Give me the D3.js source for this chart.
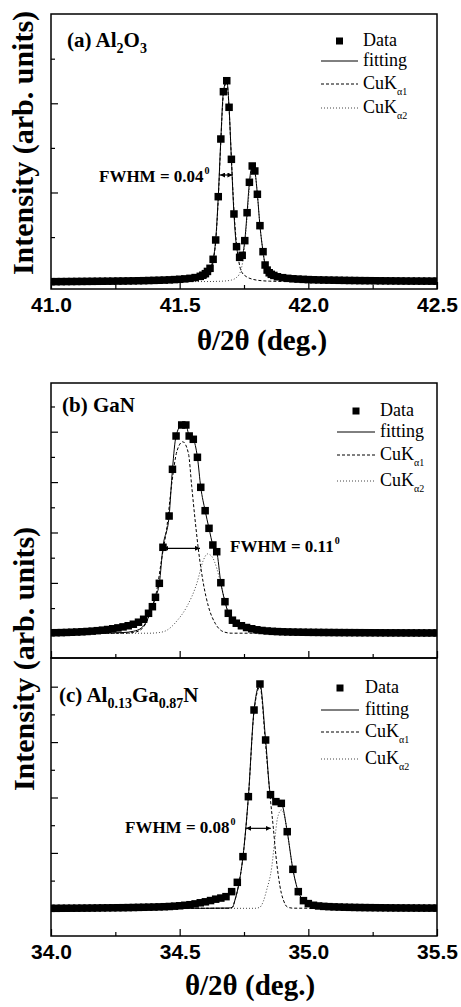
<!DOCTYPE html>
<html>
<head>
<meta charset="utf-8">
<script src="https://cdn.jsdelivr.net/npm/d3@7"></script>
<style>
  html, body { margin: 0; padding: 0; background: #fff; }
  svg { display: block; }
</style>
</head>
<body>
<div id="chart"></div>
<script>
// Rocking / theta-2theta scans, three panels

// (a) Al2O3 — [2theta, counts]
const al2o3Data = [
  [41.00,1000],[41.02,1001],[41.04,1002],[41.06,1003],[41.08,1004],[41.10,1005],[41.12,1006],[41.14,1007],
  [41.16,1008],[41.18,1009],[41.20,1010],[41.22,1011],[41.24,1012],[41.26,1014],[41.28,1015],[41.30,1017],
  [41.32,1019],[41.34,1021],[41.36,1023],[41.38,1026],[41.40,1029],[41.42,1032],[41.44,1036],[41.46,1041],
  [41.48,1047],[41.50,1054],[41.52,1063],[41.54,1075],[41.56,1092],[41.58,1120],[41.59,1145],[41.60,1180],
  [41.608,1230],[41.618,1300],[41.630,1502],[41.640,1935],[41.650,2906],[41.660,4199],[41.670,5260],
  [41.683,5506],[41.692,4910],[41.701,3744],[41.711,2518],[41.721,1785],[41.733,1546],[41.743,1591],
  [41.753,1920],[41.762,2547],[41.771,3229],[41.782,3594],[41.792,3482],[41.802,2960],[41.812,2256],
  [41.824,1673],[41.832,1374],[41.840,1260],[41.848,1200],[41.856,1165],[41.866,1140],[41.88,1110],
  [41.90,1090],[41.92,1075],[41.94,1065],[41.96,1058],[41.98,1052],[42.00,1047],[42.02,1043],[42.04,1040],
  [42.06,1037],[42.08,1035],[42.10,1033],[42.12,1031],[42.14,1029],[42.16,1027],[42.18,1026],[42.20,1024],
  [42.22,1023],[42.24,1022],[42.26,1021],[42.28,1020],[42.30,1019],[42.32,1018],[42.34,1017],[42.36,1016],
  [42.38,1015],[42.40,1014],[42.42,1014],[42.44,1013],[42.46,1013],[42.48,1012],[42.50,1012]
];
const al2o3Fit = [
  [41.00,1000],[41.30,1012],[41.50,1045],[41.56,1075],[41.60,1150],[41.618,1300],[41.630,1502],[41.640,1935],
  [41.650,2906],[41.660,4199],[41.670,5260],[41.683,5506],[41.692,4910],[41.701,3744],[41.711,2518],
  [41.721,1785],[41.733,1546],[41.743,1591],[41.753,1920],[41.762,2547],[41.771,3229],[41.782,3594],
  [41.792,3482],[41.802,2960],[41.812,2256],[41.824,1673],[41.832,1374],[41.845,1180],[41.87,1080],
  [41.95,1035],[42.10,1012],[42.50,1002]
];
const al2o3Ka1 = [
  [41.00,1000],[41.50,1005],[41.58,1040],[41.60,1080],[41.62,1200],[41.63,1450],[41.64,1900],[41.65,2850],
  [41.66,4150],[41.67,5200],[41.683,5480],[41.692,4880],[41.70,3900],[41.71,2700],[41.72,1900],[41.73,1450],
  [41.74,1230],[41.76,1110],[41.78,1060],[41.80,1035],[41.85,1012],[41.95,1003],[42.50,1000]
];
const al2o3Ka2 = [
  [41.00,1000],[41.60,1003],[41.66,1010],[41.70,1035],[41.72,1090],[41.73,1150],[41.74,1300],[41.75,1650],
  [41.76,2300],[41.77,3000],[41.785,3550],[41.795,3350],[41.802,2960],[41.812,2256],[41.824,1673],
  [41.832,1374],[41.845,1180],[41.87,1070],[41.92,1020],[42.00,1008],[42.50,1000]
];

// (b) GaN
const ganData = [
  [34.00,2020],[34.02,2024],[34.04,2028],[34.06,2034],[34.08,2042],[34.10,2050],[34.12,2060],[34.14,2072],
  [34.16,2086],[34.18,2104],[34.20,2125],[34.22,2150],[34.24,2180],[34.26,2215],[34.28,2255],[34.30,2300],
  [34.32,2360],[34.34,2440],[34.36,2556],[34.379,2794],[34.394,3056],[34.406,3429],[34.421,3984],
  [34.435,5413],[34.459,6654],[34.472,8508],[34.486,9829],[34.508,10266],[34.524,10266],[34.537,9829],
  [34.553,9698],[34.569,8984],[34.582,7793],[34.599,6865],[34.614,6166],[34.629,5504],[34.644,5238],
  [34.660,4008],[34.676,3254],[34.689,2794],[34.705,2520],[34.72,2400],[34.74,2300],[34.76,2230],
  [34.78,2180],[34.80,2140],[34.82,2112],[34.84,2092],[34.86,2078],[34.88,2068],[34.90,2060],[34.92,2054],
  [34.94,2049],[34.96,2045],[34.98,2042],[35.00,2039],[35.02,2037],[35.04,2035],[35.06,2033],[35.08,2031],
  [35.10,2030],[35.12,2028],[35.14,2027],[35.16,2026],[35.18,2025],[35.20,2024],[35.22,2023],[35.24,2022],
  [35.26,2021],[35.28,2020],[35.30,2019],[35.32,2018],[35.34,2018],[35.36,2017],[35.38,2016],[35.40,2016],
  [35.42,2015],[35.44,2015],[35.46,2014],[35.48,2014],[35.50,2013]
];
const ganFit = [
  [34.00,2000],[34.20,2010],[34.28,2030],[34.32,2080],[34.35,2200],[34.37,2450],[34.394,3056],[34.406,3429],
  [34.421,3984],[34.435,5413],[34.459,6654],[34.472,8508],[34.486,9829],[34.508,10266],[34.524,10266],
  [34.537,9829],[34.553,9698],[34.569,8984],[34.582,7793],[34.599,6865],[34.614,6166],[34.629,5504],
  [34.644,5238],[34.660,4008],[34.676,3254],[34.689,2794],[34.705,2520],[34.72,2380],[34.75,2220],
  [34.80,2100],[34.90,2040],[35.10,2015],[35.50,2005]
];
const ganKa1 = [
  [34.00,2000],[34.28,2005],[34.32,2030],[34.35,2150],[34.37,2420],[34.39,2950],[34.41,3650],[34.43,4950],
  [34.45,6200],[34.47,8000],[34.49,9250],[34.512,9600],[34.534,9143],[34.547,7817],[34.56,6496],
  [34.573,5305],[34.592,3984],[34.612,3056],[34.638,2397],[34.67,2063],[34.70,2005],[35.50,2000]
];
const ganKa2 = [
  [34.00,2000],[34.38,2003],[34.42,2030],[34.45,2120],[34.49,2500],[34.528,3060],[34.567,3990],[34.592,4900],
  [34.608,5150],[34.625,5050],[34.645,4550],[34.66,3950],[34.68,3150],[34.70,2620],[34.72,2340],
  [34.75,2170],[34.80,2070],[34.90,2020],[35.00,2008],[35.50,2000]
];

// (c) Al0.13Ga0.87N
const alganData = [
  [34.00,2000],[34.02,2000],[34.04,2002],[34.06,2003],[34.08,2004],[34.10,2005],[34.12,2007],[34.14,2008],
  [34.16,2010],[34.18,2012],[34.20,2015],[34.22,2017],[34.24,2019],[34.26,2021],[34.28,2023],[34.30,2026],
  [34.32,2030],[34.34,2034],[34.36,2038],[34.38,2042],[34.40,2046],[34.42,2052],[34.44,2058],[34.46,2066],
  [34.48,2078],[34.50,2092],[34.52,2110],[34.54,2130],[34.56,2160],[34.58,2200],[34.60,2235],[34.62,2280],
  [34.64,2330],[34.66,2370],[34.680,2421],[34.702,2602],[34.724,2938],[34.746,3865],[34.767,6030],
  [34.789,9158],[34.812,10096],[34.834,8075],[34.853,6102],[34.874,5850],[34.895,5789],[34.918,4767],
  [34.940,3408],[34.961,2602],[34.981,2277],[35.00,2170],[35.02,2110],[35.04,2085],[35.06,2070],
  [35.08,2060],[35.10,2052],[35.12,2046],[35.14,2040],[35.16,2036],[35.18,2032],[35.20,2029],[35.22,2026],
  [35.24,2024],[35.26,2022],[35.28,2020],[35.30,2018],[35.32,2016],[35.34,2014],[35.36,2013],[35.38,2012],
  [35.40,2011],[35.42,2010],[35.44,2009],[35.46,2008],[35.48,2008],[35.50,2007]
];
const alganFit = [
  [34.00,2000],[34.60,2002],[34.66,2008],[34.69,2010],[34.705,2040],[34.715,2300],[34.726,2700],
  [34.746,3865],[34.767,6030],[34.789,9158],[34.812,10096],[34.834,8075],[34.853,6102],[34.874,5850],
  [34.895,5789],[34.918,4767],[34.940,3408],[34.961,2602],[34.981,2277],[35.00,2150],[35.04,2060],
  [35.10,2020],[35.50,2002]
];
const alganKa1 = [
  [34.00,2000],[34.69,2003],[34.705,2040],[34.715,2300],[34.726,2700],[34.746,3850],[34.767,6000],
  [34.789,9100],[34.812,10000],[34.834,7900],[34.853,5900],[34.864,4900],[34.874,3900],[34.884,3140],
  [34.895,2550],[34.903,2300],[34.918,2050],[34.94,2005],[35.50,2000]
];
const alganKa2 = [
  [34.00,2000],[34.79,2000],[34.81,2030],[34.825,2250],[34.838,2660],[34.858,3500],[34.87,4500],
  [34.88,5250],[34.895,5550],[34.908,5300],[34.918,4767],[34.940,3408],[34.961,2602],[34.981,2277],
  [35.00,2150],[35.04,2060],[35.10,2020],[35.50,2002]
];

// axis ticks
const xMajorA = [41.0, 41.5, 42.0, 42.5];
const xMinorA = [41.25, 41.75, 42.25];
const xMajorBC = [34.0, 34.5, 35.0, 35.5];
const xMinorBC = [34.25, 34.75, 35.25];
const yMajorA = [1000, 3000, 5000];
const yMinorA = [2000, 4000, 6000];
const yMajorB = [2000, 4000, 6000, 8000, 10000];
const yMinorB = [3000, 5000, 7000, 9000, 11000];
const yMajorC = [2000, 4000, 6000, 8000, 10000];
const yMinorC = [3000, 5000, 7000, 9000];

const legendLabels = ['Data', 'fitting', 'CuK', 'CuK'];
const legendSubs = ['', '', '\u03b11', '\u03b12'];

const SERIF = '"Liberation Serif", "Times New Roman", serif';
const SANS = '"Liberation Sans", Arial, sans-serif';
const W = 461, H = 1007;
const left = 51, right = 437;
const SQ = 7.5;

const svg = d3.select('#chart').append('svg')
  .attr('width', W)
  .attr('height', H)
  .style('background', '#fff');

const defs = svg.append('defs');
defs.append('marker')
  .attr('id', 'arrowhead')
  .attr('viewBox', '0 0 6 6')
  .attr('refX', 6).attr('refY', 3)
  .attr('markerWidth', 5).attr('markerHeight', 5)
  .attr('markerUnits', 'userSpaceOnUse')
  .attr('orient', 'auto-start-reverse')
  .append('path')
  .attr('d', 'M0,0 L6,3 L0,6 Z')
  .attr('fill', '#000');

const panels = [
  {
    id: 'a', top: 14, bottom: 289,
    xDomain: [41.0, 42.5], yDomain: [836, 7002],
    data: al2o3Data, fit: al2o3Fit, ka1: al2o3Ka1, ka2: al2o3Ka2,
    xMajor: xMajorA, xMinor: xMinorA, yMajor: yMajorA, yMinor: yMinorA,
    showXLabels: true, tickLabelY: 312, xTitle: { x: 262, y: 350 },
    title: { x: 67, y: 47, parts: [['(a) Al', 0], ['2', 1], ['O', 0], ['3', 1]] },
    legend: { l0: 321, l1: 358, tx: 363, rows: [46, 66, 89, 113] },
    fwhm: { x: 99, y: 182, text: 'FWHM = 0.04', arrow: [41.657, 41.705, 3392] }
  },
  {
    id: 'b', top: 383, bottom: 658,
    xDomain: [34.0, 35.5], yDomain: [1020, 11932],
    data: ganData, fit: ganFit, ka1: ganKa1, ka2: ganKa2,
    xMajor: xMajorBC, xMinor: xMinorBC, yMajor: yMajorB, yMinor: yMinorB,
    showXLabels: false,
    title: { x: 62, y: 412, parts: [['(b) GaN', 0]] },
    legend: { l0: 337, l1: 375, tx: 380, rows: [416, 437, 460, 486] },
    fwhm: { x: 230, y: 552, text: 'FWHM = 0.11', arrow: [34.437, 34.579, 5373] }
  },
  {
    id: 'c', top: 658, bottom: 936,
    xDomain: [34.0, 35.5], yDomain: [1001, 11035],
    data: alganData, fit: alganFit, ka1: alganKa1, ka2: alganKa2,
    xMajor: xMajorBC, xMinor: xMinorBC, yMajor: yMajorC, yMinor: yMinorC,
    showXLabels: true, tickLabelY: 960, xTitle: { x: 250, y: 995 },
    title: { x: 59, y: 702, parts: [['(c) Al', 0], ['0.13', 1], ['Ga', 0], ['0.87', 1], ['N', 0]] },
    legend: { l0: 321, l1: 359, tx: 365, rows: [693, 715, 737, 764] },
    fwhm: { x: 125, y: 833, text: 'FWHM = 0.08', arrow: [34.758, 34.854, 4887] }
  }
];

panels.forEach(p => {
  const x = d3.scaleLinear().domain(p.xDomain).range([left, right]);
  const y = d3.scaleLinear().domain(p.yDomain).range([p.bottom, p.top]);
  const g = svg.append('g');

  defs.append('clipPath').attr('id', 'clip-' + p.id)
    .append('rect')
    .attr('x', left).attr('y', p.top)
    .attr('width', right - left).attr('height', p.bottom - p.top);

  const plot = g.append('g').attr('clip-path', `url(#clip-${p.id})`);
  const line = d3.line()
    .x(d => x(d[0]))
    .y(d => y(d[1]))
    .curve(d3.curveMonotoneX);

  plot.append('path').datum(p.ka2).attr('d', line)
    .attr('fill', 'none').attr('stroke', '#444').attr('stroke-width', 1)
    .attr('stroke-dasharray', '1,2');
  plot.append('path').datum(p.ka1).attr('d', line)
    .attr('fill', 'none').attr('stroke', '#000').attr('stroke-width', 1)
    .attr('stroke-dasharray', '3,2');
  plot.append('path').datum(p.fit).attr('d', line)
    .attr('fill', 'none').attr('stroke', '#000').attr('stroke-width', 1);

  plot.selectAll('rect.pt').data(p.data).join('rect')
    .attr('class', 'pt')
    .attr('x', d => x(d[0]) - SQ / 2)
    .attr('y', d => y(d[1]) - SQ / 2)
    .attr('width', SQ).attr('height', SQ)
    .attr('fill', '#000');

  // inward ticks, bottom
  const bottomAxis = (vals, size) => d3.axisBottom(x).tickValues(vals)
    .tickSizeInner(-size).tickSizeOuter(0).tickPadding(8);
  const gx = g.append('g').attr('transform', `translate(0,${p.bottom})`)
    .call(bottomAxis(p.xMajor, 7).tickFormat(p.showXLabels ? d3.format('.1f') : () => ''));
  g.append('g').attr('transform', `translate(0,${p.bottom})`)
    .call(bottomAxis(p.xMinor, 4).tickFormat(() => ''));

  // inward ticks, left
  g.append('g').attr('transform', `translate(${left},0)`)
    .call(d3.axisLeft(y).tickValues(p.yMajor).tickSizeInner(-7).tickSizeOuter(0).tickFormat(() => ''));
  g.append('g').attr('transform', `translate(${left},0)`)
    .call(d3.axisLeft(y).tickValues(p.yMinor).tickSizeInner(-4).tickSizeOuter(0).tickFormat(() => ''));

  g.selectAll('.domain').remove();
  g.selectAll('.tick line').attr('stroke', '#000').attr('stroke-width', 1.2);
  gx.selectAll('text')
    .attr('fill', '#000')
    .style('font-family', SANS)
    .style('font-size', '21px')
    .style('font-weight', 'bold');

  // frame
  g.append('rect')
    .attr('x', left).attr('y', p.top)
    .attr('width', right - left).attr('height', p.bottom - p.top)
    .attr('fill', 'none').attr('stroke', '#000').attr('stroke-width', 1.5);

  if (p.xTitle) {
    g.append('text')
      .attr('x', p.xTitle.x).attr('y', p.xTitle.y)
      .attr('text-anchor', 'middle')
      .style('font-family', SERIF).style('font-size', '29px').style('font-weight', 'bold')
      .text('\u03b8/2\u03b8 (deg.)');
  }

  // panel title with subscripts
  const t = g.append('text')
    .attr('x', p.title.x).attr('y', p.title.y)
    .style('font-family', SERIF).style('font-size', '21px').style('font-weight', 'bold');
  let low = 0;
  p.title.parts.forEach(([s, sub]) => {
    const dy = sub ? (low ? 0 : 6) : (low ? -6 : 0);
    low = sub;
    t.append('tspan').attr('dy', dy).style('font-size', sub ? '14px' : '21px').text(s);
  });

  // legend
  const lg = p.legend;
  const cx = (lg.l0 + lg.l1) / 2;
  legendLabels.forEach((lab, i) => {
    const by = lg.rows[i];
    const sy = by - 5;
    if (i === 0) {
      g.append('rect').attr('x', cx - 3.5).attr('y', sy - 3.5)
        .attr('width', 7).attr('height', 7).attr('fill', '#000');
    } else {
      g.append('line').attr('x1', lg.l0).attr('x2', lg.l1).attr('y1', sy).attr('y2', sy)
        .attr('stroke', i === 3 ? '#444' : '#000').attr('stroke-width', 1)
        .attr('stroke-dasharray', i === 2 ? '3,2' : i === 3 ? '1,2' : null);
    }
    const tx = g.append('text').attr('x', lg.tx).attr('y', by)
      .style('font-family', SERIF).style('font-size', '18px');
    tx.append('tspan').text(lab);
    if (legendSubs[i]) {
      tx.append('tspan').attr('dy', 6).style('font-size', '10px').text(legendSubs[i]);
    }
  });

  // FWHM annotation
  const f = p.fwhm;
  const ft = g.append('text').attr('x', f.x).attr('y', f.y)
    .style('font-family', SERIF).style('font-size', '17px').style('font-weight', 'bold');
  ft.append('tspan').text(f.text);
  ft.append('tspan').attr('dy', -8).attr('dx', 1).style('font-size', '10px').text('0');

  g.append('line')
    .attr('x1', x(f.arrow[0])).attr('x2', x(f.arrow[1]))
    .attr('y1', y(f.arrow[2])).attr('y2', y(f.arrow[2]))
    .attr('stroke', '#000').attr('stroke-width', 1.2)
    .attr('marker-start', 'url(#arrowhead)')
    .attr('marker-end', 'url(#arrowhead)');
});

// y titles
const yTitles = [{ cy: 143, bx: 33 }, { cy: 659, bx: 34 }];
yTitles.forEach(d => {
  svg.append('text')
    .attr('transform', `translate(${d.bx},${d.cy}) rotate(-90)`)
    .attr('text-anchor', 'middle')
    .style('font-family', SERIF).style('font-size', '30px').style('font-weight', 'bold')
    .text('Intensity (arb. units)');
});
</script>
</body>
</html>
